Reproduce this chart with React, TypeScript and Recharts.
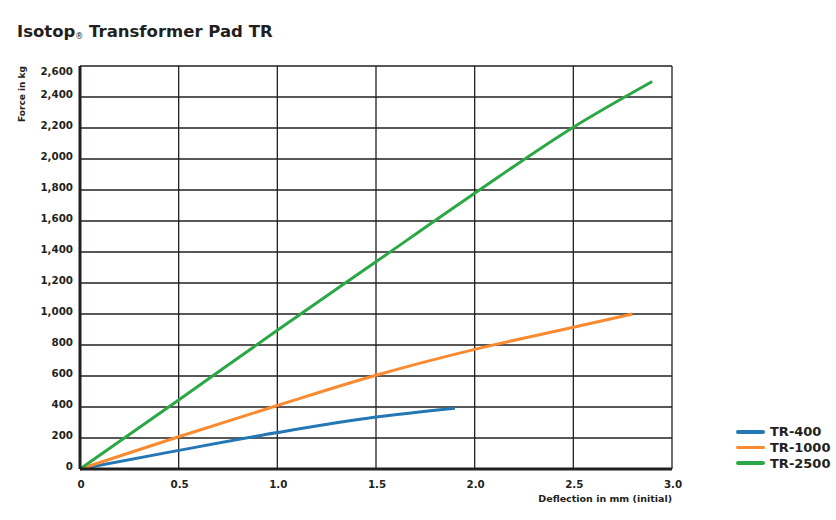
import React from 'react';
import { LineChart, Line, XAxis, YAxis, CartesianGrid } from 'recharts';

// Deflection (mm) against force (kg)
const tr400Deflection = [0, 0.5, 1.0, 1.5, 1.9];
const tr400Force = [0, 120, 235, 335, 392];

const tr1000Deflection = [0, 0.5, 1.0, 1.5, 2.0, 2.5, 2.8];
const tr1000Force = [0, 208, 410, 605, 772, 914, 1000];

const tr2500Deflection = [0, 0.5, 1.0, 1.5, 2.0, 2.5, 2.9];
const tr2500Force = [0, 445, 895, 1337, 1779, 2205, 2500];

const xTicks = [0, 0.5, 1.0, 1.5, 2.0, 2.5, 3.0];
const yTicks = [0, 200, 400, 600, 800, 1000, 1200, 1400, 1600, 1800, 2000, 2200, 2400, 2600];

const INK = '#231f20';
const FONT = '"DejaVu Sans", sans-serif';

const toPoints = (xs: number[], ys: number[]) => xs.map((x, i) => ({ x, y: ys[i] }));

const series = [
  { name: 'TR-400', color: '#2377b4', data: toPoints(tr400Deflection, tr400Force) },
  { name: 'TR-1000', color: '#f98a30', data: toPoints(tr1000Deflection, tr1000Force) },
  { name: 'TR-2500', color: '#2ba845', data: toPoints(tr2500Deflection, tr2500Force) },
];

const YTick = (props: any) => {
  const { x, y, payload } = props;
  // the top label sits inside the frame in the original
  const shift = payload.value === 2600 ? 5 : -3;
  return (
    <text x={x} y={y + shift} textAnchor="end" dominantBaseline="central"
      fontFamily={FONT} fontWeight="bold" fontSize={10.3} fill={INK}>
      {payload.value.toLocaleString('en-US')}
    </text>
  );
};

const XTick = (props: any) => {
  const { x, y, payload } = props;
  const label = payload.value === 0 ? '0' : payload.value.toFixed(1);
  return (
    <text x={x + 1} y={y + 3} dy="0.71em" textAnchor="middle"
      fontFamily={FONT} fontWeight="bold" fontSize={10.3} fill={INK}>
      {label}
    </text>
  );
};

const App = () => {
  return (
    <div style={{ position: 'absolute', left: 0, top: 0, width: 836, height: 520, background: '#fff' }}>
      <div style={{
        position: 'absolute', left: 17, top: 22, fontFamily: FONT, fontWeight: 'bold',
        fontSize: 16.5, color: INK, whiteSpace: 'nowrap',
      }}>
        Isotop<span style={{ fontSize: 8, verticalAlign: -2, fontWeight: 'normal' }}>®</span> Transformer Pad TR
      </div>

      <LineChart
        width={836}
        height={520}
        margin={{ top: 66, right: 164, left: 20, bottom: 21 }}
      >
        <CartesianGrid stroke={INK} strokeWidth={1.3} />
        <XAxis
          type="number"
          dataKey="x"
          domain={[0, 3]}
          ticks={xTicks}
          height={30}
          tickLine={false}
          tickSize={0}
          tickMargin={9}
          axisLine={{ stroke: INK, strokeWidth: 3 }}
          tick={<XTick />}
          allowDuplicatedCategory={false}
        />
        <YAxis
          type="number"
          dataKey="y"
          domain={[0, 2600]}
          ticks={yTicks}
          width={60}
          interval={0}
          tickLine={false}
          tickSize={0}
          tickMargin={7}
          axisLine={{ stroke: INK, strokeWidth: 3 }}
          tick={<YTick />}
        />
        {series.map(s => (
          <Line
            key={s.name}
            data={s.data}
            dataKey="y"
            name={s.name}
            type="monotone"
            stroke={s.color}
            strokeWidth={3}
            dot={false}
            activeDot={false}
            isAnimationActive={false}
          />
        ))}
        <text x={672} y={498} textAnchor="end" dominantBaseline="central"
          fontFamily={FONT} fontWeight="bold" fontSize={9.5} fill={INK}>
          Deflection in mm (initial)
        </text>
        <text x={22} y={94} textAnchor="middle" dominantBaseline="central"
          transform="rotate(-90 22 94)"
          fontFamily={FONT} fontWeight="bold" fontSize={9} fill={INK}>
          Force in kg
        </text>
      </LineChart>

      <div style={{
        position: 'absolute', left: 736, top: 424, fontFamily: FONT, fontWeight: 'bold',
        fontSize: 13, color: INK,
      }}>
        {series.map(s => (
          <div key={s.name} style={{ display: 'flex', alignItems: 'center', height: 15.7 }}>
            <span style={{
              display: 'inline-block', width: 29, height: 3.5, borderRadius: 2,
              background: s.color, marginRight: 5,
            }} />
            <span>{s.name}</span>
          </div>
        ))}
      </div>
    </div>
  );
};

export default App;
